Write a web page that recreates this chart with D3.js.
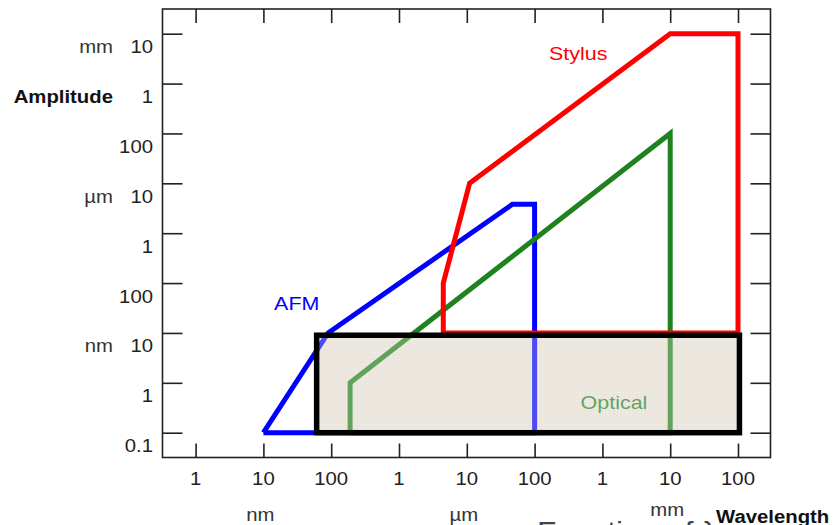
<!DOCTYPE html>
<html>
<head>
<meta charset="utf-8">
<script src="https://cdn.jsdelivr.net/npm/d3@7/dist/d3.min.js"></script>
<style>
  html, body { margin: 0; padding: 0; background: #fff; }
  svg { display: block; font-family: "Liberation Sans", Arial, sans-serif; }
</style>
</head>
<body>
<svg id="chart" width="834" height="525"></svg>
<script>
// ---- data (all in nanometres) ----
const xTickValues = [1, 10, 100, 1e3, 1e4, 1e5, 1e6, 1e7, 1e8];
const xTickLabels = ["1", "10", "100", "1", "10", "100", "1", "10", "100"];
const xUnitLabels = [{ v: 10, t: "nm" }, { v: 1e4, t: "µm" }, { v: 1e7, t: "mm" }];
const yTickValues = [0.1, 1, 10, 100, 1e3, 1e4, 1e5, 1e6, 1e7];
const yTickLabels = ["0.1", "1", "10", "100", "1", "10", "100", "1", "10"];
const yUnitLabels = [{ v: 10, t: "nm" }, { v: 1e4, t: "µm" }, { v: 1e7, t: "mm" }];

const afmWavelength = [10, 90, 47000, 100000, 100000, 10];
const afmAmplitude = [0.1, 10, 3800, 3800, 0.1, 0.1];
const opticalWavelength = [190, 190, 1e7, 1e7, 190];
const opticalAmplitude = [0.1, 1, 1e5, 0.1, 0.1];
const stylusWavelength = [4500, 4500, 11000, 1e7, 1e8, 1e8, 4500];
const stylusAmplitude = [10, 100, 1e4, 1e7, 1e7, 10, 10];
const boxWavelength = [61, 1.05e8];
const boxAmplitude = [0.1, 9];

const seriesNames = ["AFM", "Optical", "Stylus"];
const seriesLabelPos = [{ w: 31, a: 29 }, { w: 1.48e6, a: 0.3 }, { w: 4.4e5, a: 2.95e6 }];

// ---- setup ----
const svg = d3.select("#chart");
const x = d3.scaleLog().domain([1, 1e8]).range([195.6, 738]);
const y = d3.scaleLog().domain([0.1, 1e7]).range([432.7, 33.7]);
const frame = { l: 162.5, r: 770.5, t: 9, b: 457.5 };
const SX = 1.13;

function label(g, px, py, txt, opts) {
  return g.append("text")
    .attr("transform", `translate(${px},${py}) scale(${SX},1)`)
    .attr("text-anchor", opts.anchor || "middle")
    .attr("font-size", opts.size || 18)
    .attr("font-weight", opts.weight || "normal")
    .attr("fill", opts.fill || "#222")
    .text(txt);
}

// texture pattern for the shaded box
const defs = svg.append("defs");
const pat = defs.append("pattern").attr("id", "tex").attr("patternUnits", "userSpaceOnUse")
  .attr("width", 4).attr("height", 4);
pat.append("rect").attr("width", 4).attr("height", 4).attr("fill", "#ece8e0");
pat.append("rect").attr("x", 1).attr("y", 2).attr("width", 1).attr("height", 1).attr("fill", "#e0dbd1");
pat.append("rect").attr("x", 3).attr("y", 0).attr("width", 1).attr("height", 1).attr("fill", "#f2efe9");

// frame
svg.append("rect").attr("x", frame.l).attr("y", frame.t)
  .attr("width", frame.r - frame.l).attr("height", frame.b - frame.t)
  .attr("fill", "none").attr("stroke", "#222").attr("stroke-width", 1.6);

// axes (ticks only, inward on all four sides)
function styleAxis(g) {
  g.select(".domain").remove();
  g.selectAll(".tick line").attr("stroke", "#222").attr("stroke-width", 1.6);
  g.selectAll(".tick text").remove();
}
svg.append("g").attr("transform", `translate(${frame.l},0)`)
  .call(d3.axisLeft(y).tickValues(yTickValues).tickSize(-20).tickFormat(() => "")).call(styleAxis);
svg.append("g").attr("transform", `translate(${frame.r},0)`)
  .call(d3.axisRight(y).tickValues(yTickValues).tickSize(-20).tickFormat(() => "")).call(styleAxis);
svg.append("g").attr("transform", `translate(0,${frame.b})`)
  .call(d3.axisBottom(x).tickValues(xTickValues).tickSize(-14).tickFormat(() => "")).call(styleAxis);
svg.append("g").attr("transform", `translate(0,${frame.t})`)
  .call(d3.axisTop(x).tickValues(xTickValues).tickSize(-14).tickFormat(() => "")).call(styleAxis);

// tick labels
const lab = svg.append("g");
yTickValues.forEach((v, i) => label(lab, 153, y(v) + 19.5, yTickLabels[i], { anchor: "end" }));
xTickValues.forEach((v, i) => label(lab, x(v), 485, xTickLabels[i], {}));
yUnitLabels.forEach(u => label(lab, 113, y(u.v) + 19.5, u.t, { anchor: "end", fill: "#333" }));
label(lab, 113, y(1e6) + 19.5, "Amplitude", { anchor: "end", weight: "bold", fill: "#111" });

// cut-off slide text at bottom
label(lab, 537, 541, "Function of λ", { anchor: "start", size: 28, fill: "#444" });
xUnitLabels.forEach(u => label(lab, x(u.v) - 3, u.t === "mm" ? 516 : 521, u.t, { fill: "#333" }));
label(lab, 716, 523, "Wavelength", { anchor: "start", weight: "bold", fill: "#111" });

// shaded box (base)
const bx0 = x(boxWavelength[0]), bx1 = x(boxWavelength[1]);
const by0 = y(boxAmplitude[1]), by1 = y(boxAmplitude[0]);
svg.append("rect").attr("x", bx0).attr("y", by0).attr("width", bx1 - bx0).attr("height", by1 - by0)
  .attr("fill", "url(#tex)");

// series outlines
const line = d3.line().x(d => x(d[0])).y(d => y(d[1]));
const series = [
  { name: "AFM", w: afmWavelength, a: afmAmplitude, color: "#0000ff" },
  { name: "Optical", w: opticalWavelength, a: opticalAmplitude, color: "#1f821f" },
  { name: "Stylus", w: stylusWavelength, a: stylusAmplitude, color: "#ff0000" }
];
series.forEach(s => {
  svg.append("path").datum(s.w.map((w, i) => [w, s.a[i]]))
    .attr("d", line).attr("fill", "none").attr("stroke", s.color)
    .attr("stroke-width", 5).attr("stroke-linejoin", "miter");
});
seriesNames.forEach((n, i) => {
  const s = series.find(t => t.name === n);
  label(svg, x(seriesLabelPos[i].w), y(seriesLabelPos[i].a), n, { size: 19, fill: s.color });
});

// translucent overlay + thick black border
svg.append("rect").attr("x", bx0).attr("y", by0).attr("width", bx1 - bx0).attr("height", by1 - by0)
  .attr("fill", "#ece8e0").attr("fill-opacity", 0.32)
  .attr("stroke", "#000").attr("stroke-width", 5.5);
</script>
</body>
</html>
